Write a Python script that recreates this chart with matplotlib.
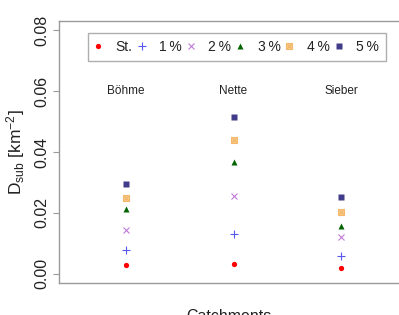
import matplotlib
matplotlib.use('Agg')
import matplotlib.pyplot as plt

plt.rcParams['font.family'] = ['Liberation Sans', 'DejaVu Sans']
plt.rcParams['mathtext.fontset'] = 'custom'
plt.rcParams['mathtext.rm'] = 'Liberation Sans'
plt.rcParams['mathtext.it'] = 'Liberation Sans:italic'

# data
catchments = ['Böhme', 'Nette', 'Sieber']
st = [0.0027, 0.0030, 0.0017]
p1 = [0.0077, 0.0129, 0.0058]
p2 = [0.0144, 0.0256, 0.0119]
p3 = [0.0211, 0.0366, 0.0156]
p4 = [0.0249, 0.0440, 0.0202]
p5 = [0.0294, 0.0516, 0.0253]
labels = ['St.', '1\u2009%', '2\u2009%', '3\u2009%', '4\u2009%', '5\u2009%']

xpos = list(range(1, len(catchments) + 1))
grey = '#9a9a9a'
txt = '#222222'

fig = plt.figure(figsize=(3.99, 3.15), dpi=100)
ax = fig.add_axes([59 / 399, 1 - 283 / 315, 1 - 59 / 399, (283 - 21) / 315])

h_st, = ax.plot(xpos, st, 'o', color='#ff0000', ms=3.8, mec='none', ls='none')
h_p1, = ax.plot(xpos, p1, '+', color='#5858f0', ms=5.5, mew=0.8, ls='none')
h_p2, = ax.plot(xpos, p2, 'x', color='#c07ad8', ms=4, mew=0.8, ls='none')
h_p3, = ax.plot(xpos, p3, '^', color='#006400', ms=4.2, mec='none', ls='none')
h_p4a, = ax.plot(xpos, p4, 's', color='#f9c98a', ms=4.3, mec='#f5b868', mew=0.8, ls='none')
h_p4b, = ax.plot(xpos, p4, 'x', color='#f0b060', ms=3, mew=0.6, ls='none')
h_p5, = ax.plot(xpos, p5, 's', color='#403c8a', ms=3.8, mec='none', ls='none')

for x, name in zip(xpos, catchments):
    ax.text(x, 0.06, name, ha='center', va='center', fontsize=8.5, color=txt)

ax.set_xlim(0.381, 3.535)
ax.set_ylim(-0.0031, 0.0831)
ax.set_xticks([])
ax.set_yticks([0.0, 0.02, 0.04, 0.06, 0.08])
ax.set_yticklabels(['0.00', '0.02', '0.04', '0.06', '0.08'], rotation=90, va='center')
ax.tick_params(axis='y', length=4, width=0.8, color=grey, labelsize=11.5,
               labelcolor=txt, pad=3)
for side in ['left', 'top', 'bottom']:
    ax.spines[side].set_color(grey)
    ax.spines[side].set_linewidth(1.0)
ax.spines['right'].set_visible(False)

ax.set_ylabel('D$_{\\mathrm{sub}}$ [km$^{-2}$]', fontsize=12.5, color=txt, labelpad=5)
ax.set_xlabel('Catchments', fontsize=11.5, color=txt, labelpad=18.5)

handles = [h_st, h_p1, h_p2, h_p3, (h_p4a, h_p4b), h_p5]
leg = fig.legend(handles, labels, loc='upper left', bbox_to_anchor=(88 / 399, 1 - 33 / 315),
                 ncol=6, frameon=True, fancybox=False, fontsize=10,
                 handlelength=0.5, handletextpad=1.0, columnspacing=0.4,
                 borderpad=0.5, borderaxespad=0)
leg.get_frame().set_edgecolor(grey)
leg.get_frame().set_linewidth(1.0)
for t in leg.get_texts():
    t.set_color(txt)

fig.savefig('out.png', dpi=100)
